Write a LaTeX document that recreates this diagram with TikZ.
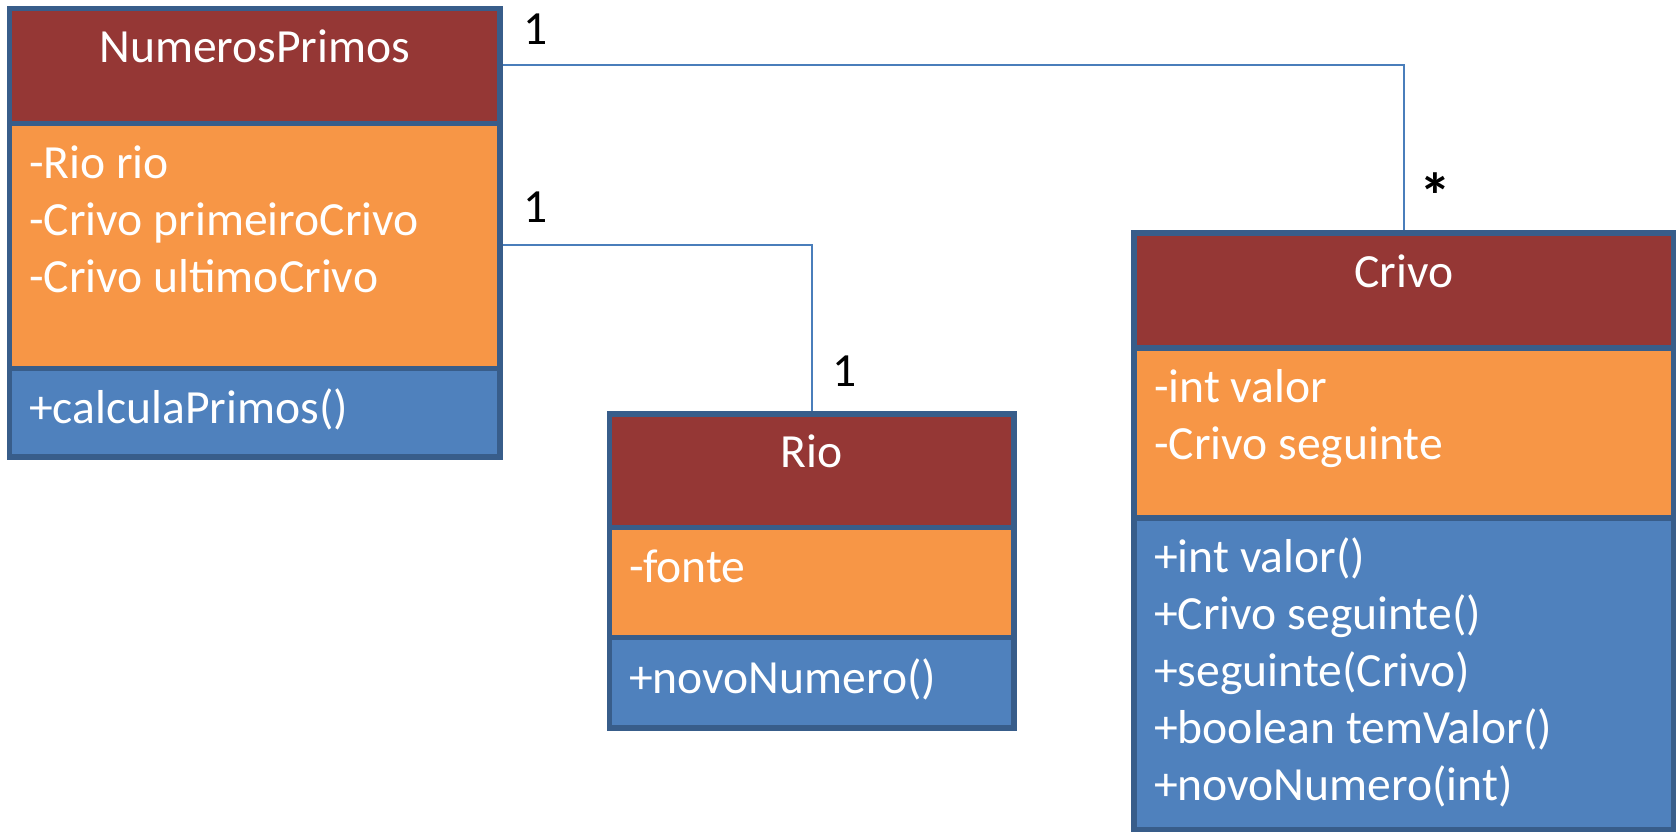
\documentclass[tikz,border=0pt]{standalone}
\usepackage{fontspec}
\setmainfont{Carlito}
\definecolor{titlefill}{HTML}{953735}
\definecolor{attrfill}{HTML}{F79646}
\definecolor{methfill}{HTML}{4F81BD}
\definecolor{bordercol}{HTML}{385D8A}
\definecolor{linecol}{HTML}{4A7EBB}
\tikzset{
  classbox/.style={draw=bordercol, line width=5.5pt, rectangle, inner sep=0pt, outer sep=0pt, anchor=north west},
  divider/.style={draw=bordercol, line width=5.5pt},
  txt/.style={text=white, inner sep=0pt, font=\fontsize{47.6}{57}\selectfont},
  mult/.style={text=black, inner sep=0pt, font=\fontsize{47.6}{57}\selectfont, anchor=base},
  assoc/.style={draw=linecol, line width=2pt},
}
\begin{document}
\begin{tikzpicture}[x=1pt,y=-1pt]
\useasboundingbox (0,0) rectangle (1678,832);
% ---------- NumerosPrimos ----------
\fill[titlefill] (9.5,8.5) rectangle (500,123.5);
\fill[attrfill] (9.5,123.5) rectangle (500,368.5);
\fill[methfill] (9.5,368.5) rectangle (500,457);
% ---------- Rio ----------
\fill[titlefill] (609.5,414) rectangle (1014,527.5);
\fill[attrfill] (609.5,527.5) rectangle (1014,637.5);
\fill[methfill] (609.5,637.5) rectangle (1014,728);
% ---------- Crivo ----------
\fill[titlefill] (1134,233) rectangle (1673.5,348);
\fill[attrfill] (1134,348) rectangle (1673.5,518);
\fill[methfill] (1134,518) rectangle (1673.5,830);

% class outlines (named nodes)
\node[classbox, minimum width=490.5pt, minimum height=448.5pt] (np) at (9.5,8.5) {};
\node[classbox, minimum width=404.5pt, minimum height=314pt] (rio) at (609.5,414) {};
\node[classbox, minimum width=539.5pt, minimum height=597pt] (crivo) at (1134,233) {};

% connectors
\draw[assoc] (np.east |- 0,65) -| (crivo.north);
\draw[assoc] (np.east |- 0,245) -| (rio.north);

% redraw outlines on top of connector ends
\draw[divider] (np.north west) rectangle (np.south east);
\draw[divider] (rio.north west) rectangle (rio.south east);
\draw[divider] (crivo.north west) rectangle (crivo.south east);

% dividers
\draw[divider] (9.5,123.5) -- (500,123.5);
\draw[divider] (9.5,368.5) -- (500,368.5);
\draw[divider] (609.5,527.5) -- (1014,527.5);
\draw[divider] (609.5,637.5) -- (1014,637.5);
\draw[divider] (1134,348) -- (1673.5,348);
\draw[divider] (1134,518) -- (1673.5,518);

% NumerosPrimos texts
\node[txt, anchor=base] (npT) at (254.75,63) {NumerosPrimos};
\node[txt, anchor=base west] (npA1) at (29,178) {-Rio rio};
\node[txt, anchor=base west] (npA2) at (29,235) {-Crivo primeiroCrivo};
\node[txt, anchor=base west] (npA3) at (29,292) {-Crivo ultimoCrivo};
\node[txt, anchor=base west] (npM1) at (29,423) {+calculaPrimos()};

% Rio texts
\node[txt, anchor=base] (rioT) at (811.75,467) {Rio};
\node[txt, anchor=base west] (rioA1) at (629,582) {-fonte};
\node[txt, anchor=base west] (rioM1) at (629,693) {+novoNumero()};

% Crivo texts
\node[txt, anchor=base] (crT) at (1403.75,287) {Crivo};
\node[txt, anchor=base west] (crA1) at (1154,402) {-int valor};
\node[txt, anchor=base west] (crA2) at (1154,459) {-Crivo seguinte};
\node[txt, anchor=base west] (crM1) at (1154,572) {+int valor()};
\node[txt, anchor=base west] (crM2) at (1154,629) {+Crivo seguinte()};
\node[txt, anchor=base west] (crM3) at (1154,686) {+seguinte(Crivo)};
\node[txt, anchor=base west] (crM4) at (1154,743) {+boolean temValor()};
\node[txt, anchor=base west] (crM5) at (1154,800) {+novoNumero(int)};

% multiplicities
\node[mult] (m1) at (536,45) {1};
\node[mult] (m2) at (536,222) {1};
\node[mult] (m3) at (844.5,386) {1};
\node[mult, font=\fontsize{64}{70}\selectfont\bfseries] (m4) at (1435.5,218) {*};
\end{tikzpicture}
\end{document}
